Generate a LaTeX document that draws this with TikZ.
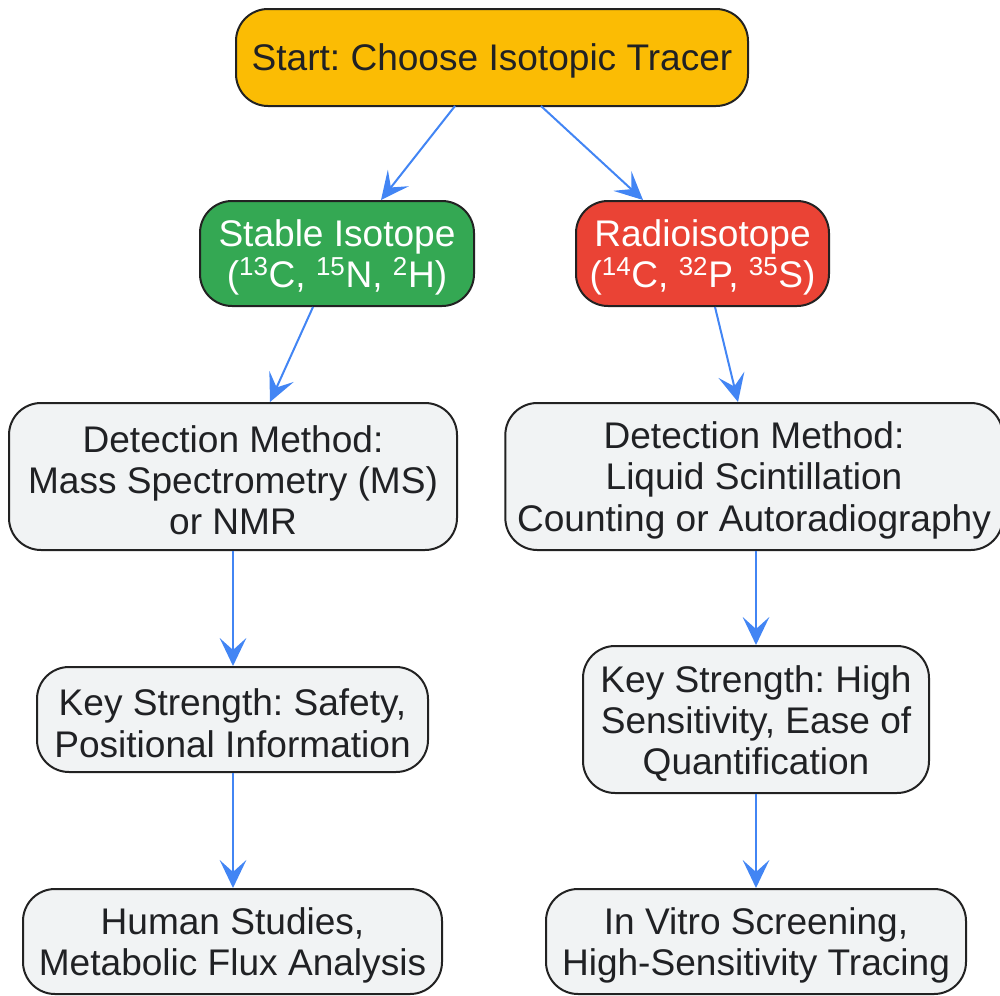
\documentclass[tikz,border=0pt]{standalone}
\usepackage{fontspec}
\setmainfont{Liberation Sans}
\usetikzlibrary{arrows.meta}
\frenchspacing
\definecolor{cYellow}{HTML}{FBBC04}
\definecolor{cGreen}{HTML}{34A853}
\definecolor{cRed}{HTML}{EA4335}
\definecolor{cGrey}{HTML}{F1F3F4}
\definecolor{cBlue}{HTML}{4285F4}
\definecolor{cText}{HTML}{202124}
\definecolor{cBorder}{HTML}{222222}
\newcommand\tstrut{\rule{0pt}{26pt}}
\newcommand\isoup[1]{\textsuperscript{#1}}
\tikzset{
  box/.style={draw=cBorder, line width=1.5pt, rounded corners=24pt, align=center,
    font=\fontsize{27.8}{31}\selectfont, text=cText, inner sep=0pt},
  greybox/.style={box, fill=cGrey},
  conn/.style={draw=cBlue, line width=1.5pt,
    -{Stealth[length=21pt, width=20pt, inset=9pt]}}
}
\begin{document}
\begin{tikzpicture}[x=0.75pt, y=-0.75pt]
\useasboundingbox (0,0) rectangle (1000,996);
\node[box, fill=cYellow, minimum width=384pt, minimum height=72.75pt] (start) at (492,57.5) {\tstrut Start: Choose Isotopic Tracer};
\node[box, fill=cGreen, text=white, minimum width=205.5pt, minimum height=78.75pt] (stable) at (337,253.5) {\tstrut Stable Isotope\\(\isoup{13}C, \isoup{15}N, \isoup{2}H)};
\node[box, fill=cRed, text=white, minimum width=189.75pt, minimum height=78.75pt] (radio) at (702.5,253.5) {\tstrut Radioisotope\\(\isoup{14}C, \isoup{32}P, \isoup{35}S)};
\node[greybox, minimum width=336pt, minimum height=110.25pt] (detL) at (233,476.5) {\tstrut Detection Method:\\Mass Spectrometry (MS)\\or NMR};
\node[greybox, minimum width=373pt, minimum height=110.25pt] (detR) at (754,476.5) {\tstrut Detection Method:\\Liquid Scintillation\\Counting or Autoradiography};
\node[greybox, minimum width=293.25pt, minimum height=78.75pt] (keyL) at (232.5,719.5) {\tstrut Key Strength: Safety,\\Positional Information};
\node[greybox, minimum width=259.5pt, minimum height=110.25pt] (keyR) at (756,719.5) {\tstrut Key Strength: High\\Sensitivity, Ease of\\Quantification};
\node[greybox, minimum width=314.25pt, minimum height=78.75pt] (human) at (232.5,941.5) {\tstrut Human Studies,\\Metabolic Flux Analysis};
\node[greybox, minimum width=315pt, minimum height=78.75pt] (vitro) at (756,941.5) {\tstrut In Vitro Screening,\\High-Sensitivity Tracing};
\draw[conn] (455,106) -- (stable.north -| 381,0);
\draw[conn] (541,106) -- (stable.north -| 643,0);
\draw[conn] (stable.south -| 313,0) -- (detL.north -| 270,0);
\draw[conn] (radio.south -| 715,0) -- (detR.north -| 738,0);
\draw[conn] (detL.south -| 233,0) -- (keyL.north -| 233,0);
\draw[conn] (detR.south -| 756,0) -- (keyR.north);
\draw[conn] (keyL.south -| 233,0) -- (human.north -| 233,0);
\draw[conn] (keyR.south) -- (vitro.north);
\end{tikzpicture}
\end{document}
